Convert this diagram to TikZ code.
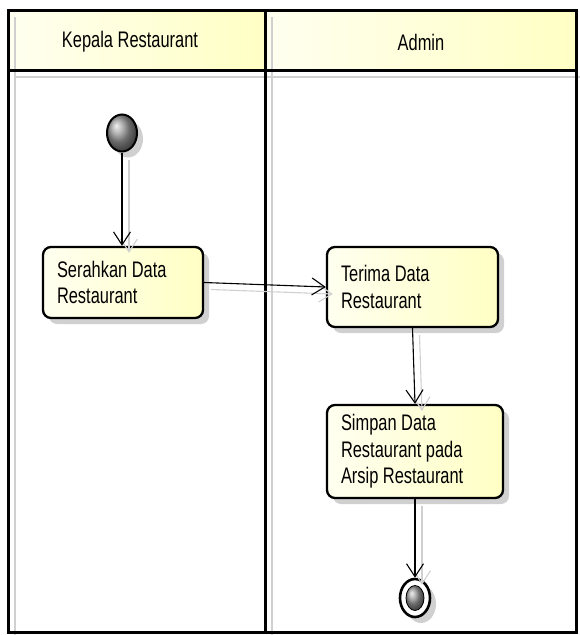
\documentclass[tikz,border=0pt]{standalone}
\usepackage{fontspec}
\setmainfont{Liberation Sans}
\newfontfamily\narrowsans[FakeStretch=0.73]{Liberation Sans}
\usetikzlibrary{arrows.meta,shadows,shapes.geometric,calc}
\definecolor{paleyel}{RGB}{255,255,196}
\definecolor{paleyelA}{RGB}{255,255,240}
\definecolor{shadegray}{RGB}{208,208,208}
\begin{document}
\begin{tikzpicture}[x=1pt,y=-1pt,
  lbl/.style={font=\narrowsans\fontsize{22.5}{26}\selectfont},
  actbox/.style={draw=black, line width=2.3pt, rounded corners=8pt,
    left color=paleyelA, right color=paleyel, inner xsep=14pt, inner ysep=0pt,
    align=flush left, font=\narrowsans\fontsize{22.5}{26.5}\selectfont,
    drop shadow={shadow xshift=6pt, shadow yshift=-6pt, fill=shadegray, opacity=1}},
  flow/.style={line width=1.1pt, -{Straight Barb[length=13pt, width=17pt, line width=1.1pt]}},
  flowshadow/.style={flow, draw=shadegray},
  laneline/.style={line width=3pt, draw=black},
  laneshadow/.style={line width=2.5pt, draw=shadegray},
]
\useasboundingbox (0,0) rectangle (579,635);

% swimlane headers
\shade[left color=paleyelA, right color=paleyel] (8,10) rectangle (265,70);
\shade[left color=paleyelA, right color=paleyel] (265,10) rectangle (576.5,70);

% lane shadows
\draw[laneshadow] (15,17) -- (15,640);
\draw[laneshadow] (272,17) -- (272,640);
\draw[laneshadow] (15,77) -- (585,77);

% lane borders
\draw[laneline] (8,10) rectangle (576.5,632);
\draw[laneline] (8,70) -- (576.5,70);
\draw[laneline] (265,10) -- (265,632);

\node[lbl] (h1) at (130,42) {Kepala Restaurant};
\node[lbl] (h2) at (421,42) {Admin};

% initial node
\node[ellipse, draw=black, line width=2pt, ball color=gray!80, minimum width=30pt,
  minimum height=37pt, inner sep=0pt,
  drop shadow={shadow xshift=6pt, shadow yshift=-6pt, fill=shadegray, opacity=1}]
  (start) at (122,133) {};

% actions
\node[actbox, text width=132pt, minimum height=71pt] (serah) at (123,282.5)
  {Serahkan Data\\Restaurant};
\node[actbox, text width=143pt, minimum height=80pt] (terima) at (412.5,287)
  {Terima Data\\Restaurant};
\node[actbox, text width=148pt, minimum height=93pt] (simpan) at (415,451.5)
  {Simpan Data\\Restaurant pada\\Arsip Restaurant};

% final node
\node[ellipse, draw=black, line width=2.6pt, fill=white, minimum width=30pt,
  minimum height=38pt, inner sep=0pt,
  drop shadow={shadow xshift=6pt, shadow yshift=-6pt, fill=shadegray, opacity=1}]
  (fin) at (415,598) {};
\node[ellipse, draw=black, line width=0.8pt, ball color=gray!80, minimum width=18pt,
  minimum height=25pt, inner sep=0pt] (fincore) at (fin.center) {};

% control flows: shadows first
\draw[flowshadow] ([shift={(7,7)}]start.south) -- ([shift={(7,7)}]start.south |- serah.north);
\draw[flowshadow] ([shift={(7,7)}]serah.east) -- ([shift={(7,7)}]terima.west);
\draw[flowshadow] ([shift={(7,7)}]terima.south) -- ([shift={(7,7)}]simpan.north);
\draw[flowshadow] ([shift={(7,7)}]simpan.south) -- ([shift={(7,7)}]fin.north);

\draw[flow] (start.south) -- (start.south |- serah.north);
\draw[flow] (serah.east) -- (terima.west);
\draw[flow] (terima.south) -- (simpan.north);
\draw[flow] (simpan.south) -- (fin.north);
\end{tikzpicture}
\end{document}
